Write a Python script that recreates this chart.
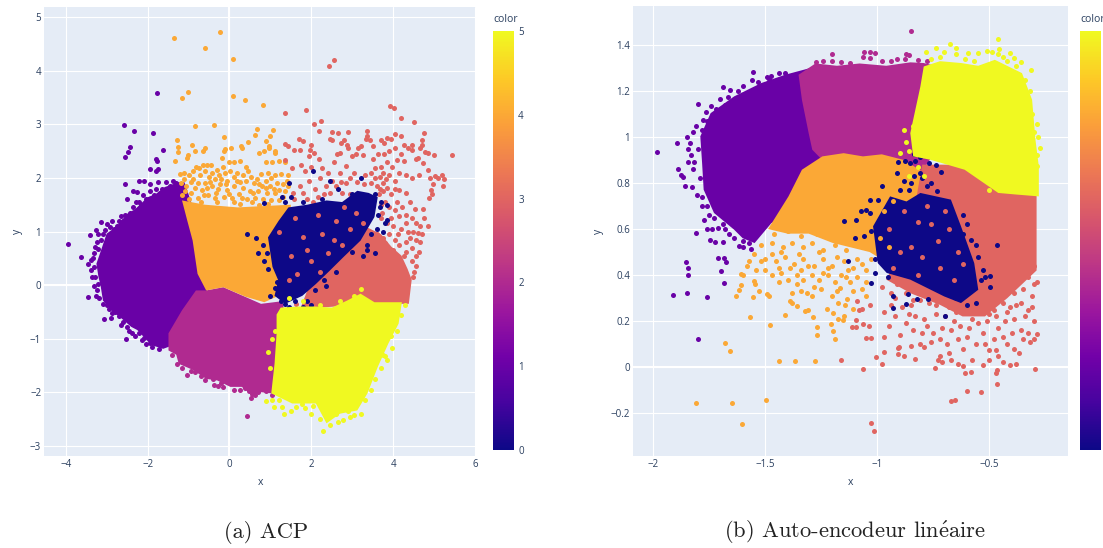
import numpy as np, pandas as pd, seaborn as sns
import matplotlib
matplotlib.use("Agg")
import matplotlib.pyplot as plt
from matplotlib.colors import LinearSegmentedColormap, Normalize
from matplotlib.cm import ScalarMappable

# ---------- left chart (ACP): dense cores as outlines, sparse points read one by one ----------
acp_core_1 = [(-1.1,1.92),(-.95,1.58),(-.8,1.2),(-.7,.83),(-.6,.34),(-.5,.09),(-.6,-.3),(-1.0,-.7),(-1.3,-1.1),(-1.62,-1.19),(-1.91,-1.12),(-2.25,-.84),(-2.4,-.78),(-2.67,-.6),(-2.85,-.5),(-3.09,-.29),(-3.15,.0),(-3.2,.15),(-3.25,.4),(-3.15,.62),(-3.0,.96),(-2.75,1.1),(-2.5,1.33),(-2.3,1.42),(-2.0,1.64),(-1.8,1.7),(-1.58,1.83),(-1.24,1.92)]
acp_core_2 = [(-.82,-.1),(-.57,-.1),(-.15,-.04),(.77,-.35),(1.3,-.3),(1.4,-.9),(1.3,-1.5),(1.25,-2.0),(1.02,-2.02),(.78,-2.0),(.56,-2.06),(.3,-1.9),(.02,-1.9),(-.3,-1.78),(-.57,-1.75),(-.9,-1.58),(-1.24,-1.47),(-1.3,-1.3),(-1.49,-1.22),(-1.49,-.9),(-1.16,-.47)]
acp_core_4 = [(-1.16,1.58),(-.6,1.5),(.2,1.45),(1.5,1.5),(1.45,.9),(1.4,.1),(1.2,-.2),(.85,-.32),(.4,-.22),(-.15,-.04),(-.57,-.1),(-.78,.21),(-.9,.83),(-1.03,1.2)]
acp_core_3 = [(1.7,-.5),(2.2,-.42),(2.6,-.4),(3.2,-.2),(3.55,-.35),(4.38,-.35),(4.45,.1),(4.35,.3),(4.2,.55),(3.95,.72),(3.7,.95),(3.3,1.1),(3,1),(2.2,.5),(1.9,-.1)]
acp_core_0 = [(.94,.89),(1.2,1.2),(1.44,1.45),(1.9,1.5),(2.37,1.58),(2.75,1.55),(3.12,1.76),(3.4,1.72),(3.62,1.64),(3.54,1.27),(3.2,.83),(2.78,.52),(2.45,.27),(2.11,.02),(1.78,-.2),(1.36,-.35),(1.1,-.2),(1.19,.09),(1.05,.34)]
acp_core_5 = [(1.25,-.42),(1.7,-.4),(2.1,-.4),(2.5,-.42),(2.87,-.29),(3.2,-.16),(3.54,-.32),(4.21,-.32),(4.13,-.72),(3.88,-1.09),(3.62,-1.53),(3.37,-2.02),(3.12,-2.34),(2.7,-2.4),(2.37,-2.58),(2.11,-2.21),(1.53,-2.21),(1.02,-2.02),(1.1,-1.47),(1.15,-.91),(1.15,-.55)]

acp_pts_1 = [(-3.95,.76),(-3.62,.52),(-1.76,3.58),(-2.58,2.98),(-2.32,2.88),(-1.87,2.84),(-2.43,2.58),(-2.47,2.49),(-2.55,2.39),(-1.62,2.53),(-1.79,2.35),(-1.76,2.31),(-1.93,2.16),(-1.8,2.12),(-1.74,2.17),(-2.54,1.88),(-2.21,1.94),(-2.1,1.94),(-1.93,1.89),(-1.74,1.92),(-1.55,1.92),(-1.3,1.9),(-2.36,1.76),(-2.25,1.73),(-2.12,1.69),(-2.5,1.61),(-2.65,1.28),(-3.13,1.17),(-2.98,1.14),(-2.86,1.19),(-3.27,1.02),(-3.41,.93),(-3.23,.8),(-3.22,.68),(-3.38,.46),(-3.46,.39),(-3.3,.34),(-3.46,-.23),(-3.23,-.1),(-3.22,.02),(-3.07,-.63),(-2.9,-.61),(-2.71,-.58),(-2.65,-.74),(-2.53,-1.01),(-2.14,-1.03),(-1.89,-1.16),(-1.72,-1.2),(-3.1,-.35),(-2.95,-.45),(-1.8,1.8),(-1.65,1.8),(-1.95,1.75),(-2.2,1.55),(-2.35,1.45),(-2.6,1.2),(-2.75,1.1),(-3.05,1.02),(-3.15,.85),(-3.3,.6),(-3.35,.15),(-3.3,-.02),(-2.8,-.5),(-2.45,-.85),(-2.3,-.95),(-2.05,-1.1),
 (-1.45,1.85),(-1.38,1.95),(-1.5,1.75),(-1.7,1.72),(-1.85,1.68),(-2.05,1.6),(-2.15,1.5),(-2.28,1.55),(-2.42,1.35),(-2.55,1.3),(-2.7,1.2),(-2.82,1.05),(-2.92,1.08),(-3.1,.95),(-3.2,.95),(-3.28,.72),(-3.33,.5),(-3.38,.28),(-3.28,.15),(-3.25,-.2),(-3.18,-.25),(-3.0,-.38),(-2.88,-.52),(-2.6,-.68),(-2.5,-.78),(-2.38,-.9),(-2.2,-.9),(-2.1,-.98),(-1.95,-1.08)]
acp_pts_2 = [(.42,-2.44),(-1.03,-1.68),(-.39,-1.86),(-.28,-1.89),(-.15,-1.9),(-.4,-1.76),(.56,-2.04),(.52,-2.1),(.37,-1.92),(-1.28,-1.47),(-.85,-1.62),(-.7,-1.7),(.12,-1.95),(.7,-2.0),(1.05,-2.05),(-1.4,-1.3),(-1.15,-1.55),(-.95,-1.6),(-.6,-1.78),(-.2,-1.83),(.25,-1.95),(.48,-1.98),(.62,-2.05),(.88,-1.98)]
acp_pts_4 = [(-1.35,4.62),(-.6,4.43),(-.23,4.73),(.08,4.22),(-1.17,3.5),(-1.01,3.6),(.08,3.53),(.39,3.45),(.82,3.36),(-.85,2.96),(-.38,2.99),(-.13,2.77),(.67,2.91),(1.07,2.89),(.63,2.8),(.98,2.78),(.9,2.69),(-1.29,2.7),(-1.26,2.57),(-1.26,2.49),(-.92,2.62),(-1.01,2.42),(-1.03,2.37),(-.84,2.5),(-.64,2.51),(-.6,2.55),(-.11,2.54),(-.13,2.5),(.04,2.56),(.27,2.6),(.31,2.56),(.46,2.67),(.97,2.6),(.97,2.56),(1.11,2.51),(1.11,2.47),(.71,2.46),(.84,2.5),(-.18,2.37),(-1.34,2.32),(0,2.29),(.11,2.29),(.25,2.31),(.88,2.3),(1.05,2.3),(1.22,2.32),(1.36,2.3),
 (-1.2,2.08),(-1.1,2.1),(-1.12,1.98),(-1.0,2.05),(-.95,1.92),(-1.05,1.85),(-.88,2.12),(-.82,2.2),(-.75,2.18),(-.72,2.05),(-.65,2.25),(-.6,2.12),(-.55,2.25),(-.5,2.02),(-.46,2.24),(-.42,2.1),(-.36,1.98),(-.3,2.15),(-.25,2.05),(-.17,2.2),(-.1,2.1),(-.05,1.95),(.02,2.12),(.1,2.02),(.18,2.1),(.25,1.92),(.33,2.05),(.4,2.2),(.45,2.12),(.52,2.02),(.6,1.9),(.68,1.98),(.78,2.08),(.8,1.85),(.88,1.95),(.95,2.1),(1.02,2.0),(1.1,2.06),(1.16,1.9),(1.25,2.08),(1.3,1.88),(1.43,2.05),(1.42,1.85),
 (-1.08,1.75),(-.95,1.72),(-.85,1.82),(-.78,1.62),(-.68,1.78),(-.6,1.9),(-.52,1.68),(-.43,1.85),(-.34,1.72),(-.24,1.88),(-.14,1.65),(-.05,1.78),(.05,1.62),(.12,1.85),(.22,1.7),(.32,1.82),(.42,1.6),(.5,1.75),(.62,1.62),(.7,1.75),(.82,1.6),(.92,1.72),(1.02,1.58),(1.12,1.72),(1.2,1.58),(1.3,1.65),(-1.0,1.6),(-.7,1.55),(-.3,1.55),(.25,1.52),(.72,1.5),
 (-1.15,1.68),(-1.18,1.9),(-.9,1.98),(-.78,1.9),(-.62,1.68),(-.55,1.82),(-.48,1.92),(-.28,1.8),(-.2,1.98),(-.08,1.88),(.0,1.7),(.18,1.95),(.3,1.62),(.4,1.95),(.58,1.72),(.72,1.88),(.88,1.82),(1.0,1.85),(1.08,1.8),(1.2,1.78),(1.35,1.75),(1.4,1.95),(-.35,1.62),(.1,1.55),(.55,1.55),(.95,1.52)]
acp_pts_3 = [(2.43,4.09),(2.55,4.2),(1.36,3.21),(1.87,3.26),(2.23,3.07),(2.06,3.0),(2.18,2.88),(2.5,2.85),(2.64,2.84),(2.89,2.85),(3.36,2.88),(3.93,3.34),(4.01,3.31),(4.18,3.11),(4.5,3.04),(4.75,2.84),(5.44,2.42),
 (1.35,2.63),(1.43,2.6),(1.58,2.52),(1.72,2.52),(1.7,2.72),(1.8,2.68),(2.0,2.62),(1.97,2.53),(2.06,2.46),(1.95,2.4),(2.45,2.73),(2.5,2.7),(2.62,2.45),(2.7,2.46),(2.72,2.65),(2.79,2.7),(2.87,2.62),(2.9,2.55),(3.0,2.4),(3.08,2.45),(3.15,2.55),(3.2,2.6),(3.25,2.42),(3.33,2.73),(3.35,2.78),(3.5,2.35),(3.7,2.7),(3.78,2.65),(3.85,2.75),(3.95,2.72),(4.05,2.82),(4.18,2.78),(4.25,2.62),(4.37,2.55),(4.45,2.62),(4.45,2.52),(4.65,2.55),(4.7,2.7),(4.7,2.62),(4.78,2.48),(4.85,2.46),(5.0,2.42),(4.55,2.35),(4.6,2.37),(4.25,2.32),(4.1,2.33),(3.7,2.2),(3.85,2.3),(3.98,2.2),(4.15,2.1),(4.3,2.05),(4.45,2.0),(4.62,2.05),(4.72,2.28),(4.85,2.15),(4.9,2.0),(5.02,2.03),(5.1,2.0),(5.2,2.05),(5.25,1.98),(5.22,1.85),(4.98,1.88),(4.92,1.78),(4.88,1.62),(4.95,1.7),(1.35,2.33),(1.52,2.18),(1.75,2.25),(1.85,2.12),(2.0,2.2),(2.18,2.35),(2.25,2.18),(2.4,2.1),(2.55,2.3),(2.7,2.1),(2.85,2.22),(3.05,2.1),(3.3,2.05),(3.55,2.18),(3.68,2.02),(3.82,1.98),(3.9,2.05),(4.05,1.95),(3.45,1.9),(3.6,1.85),(3.75,1.9),(2.6,1.85),(2.85,1.9),(2.95,1.7),(1.8,1.72),(2.1,1.8),(2.3,1.7),(1.58,1.6),(1.9,1.6),
 (3.75,1.75),(3.8,1.55),(3.95,1.7),(4.05,1.8),(4.15,1.78),(4.3,1.72),(4.4,1.55),(4.52,1.42),(4.72,1.42),(4.75,1.25),(4.55,1.15),(4.65,1.1),(4.85,1.1),(4.6,.98),(4.7,.95),(4.65,.8),(3.7,1.5),(3.9,1.45),(4.05,1.4),(4.15,1.28),(4.3,1.3),(4.45,1.25),(3.7,1.25),(3.85,1.15),(4.0,1.1),(4.2,1.05),(4.35,1.0),(4.48,1.0),(3.6,.95),(3.75,.88),(3.9,.95),(4.05,.85),(4.15,.75),(4.3,.8),(4.45,.7),(3.45,.75),(3.6,.65),(3.85,.6),(4.0,.65),(4.25,.55),(4.45,.45),(4.62,.62),(4.55,.35),(4.48,.15),(3.1,.6),(3.3,.4),(2.9,.5),(2.7,.2),
 (1.62,-.35),(2.0,-.2),(2.85,-.45),(3.0,-.5),(2.4,-.5),(2.55,-.6),(2.1,-.65),(2.3,-.8),(3.0,-.75),(1.95,-.6),
 (1.55,1.72),(1.72,1.85),(1.95,1.95),(2.2,2.0),(2.35,1.85),(2.5,1.95),(2.72,1.92),(2.95,2.0),(3.12,1.92),(3.28,1.88),(3.55,2.0),(3.68,1.8),(3.45,2.1),(3.75,2.1),(2.15,1.65),(2.45,1.72),(2.05,1.55),(2.75,1.72),(3.62,2.45),(3.5,2.6),(3.78,2.45),(3.42,2.7),(3.9,2.5),(4.05,2.55),(4.18,2.45),(3.65,1.7),(3.85,1.82),(3.72,1.35),(3.95,1.25),(4.1,1.55),(4.22,1.45),(4.32,1.15),(4.42,.88),(4.55,.85),(4.12,.95),(3.8,.78),(4.32,.62),(4.55,.55),(3.95,.5),(3.7,.75),(4.5,.25),(2.75,-.4),(2.25,-.5)]
acp_pts_0 = [(2.05,2.12),(2.45,1.95),(2.25,1.6),(3.2,2.0),(2.65,1.8),(1.45,1.9),(1.35,1.55),(1.8,1.55),(.84,1.53),(1.28,1.65),(1.5,1.65),(3.0,1.7),(3.55,1.7),(3.7,1.55),(3.62,1.3),(3.85,1.5),(3.8,1.15),(3.85,1.22),(3.6,1.05),(3.75,1.0),(3.35,.75),(3.35,.65),(3.55,.6),(.43,.95),(.65,.87),(.7,.6),(.82,.75),(.92,.6),(.85,.45),(.95,.3),(1.15,.05),(1.0,-.2),(1.35,-.35),(1.55,-.6),(1.6,-.3),(1.8,-.4),(2.0,-.38),(1.75,-.85),(1.5,-.9),(2.3,.1),(2.6,.25),
 (1.1,-.05),(1.25,-.3),(1.45,-.4),(1.62,-.48),(1.9,-.3),(1.52,-.18),(2.1,-.1),(2.35,-.02),(3.0,.62),(3.25,.55),(3.45,.95),(3.68,1.45)]
acp_pts_5 = [(2.28,-2.73),(3.22,-2.4),(2.94,-2.47),(2.66,-2.55),(2.77,-2.51),(1.99,-2.4),(1.33,-2.41),(1.08,-2.28),(.88,-2.17),(1.28,-2.27),(1.5,-2.35),(1.78,-2.22),(3.96,-1.17),(3.79,-1.33),(3.71,-1.55),(1.0,-1.55),(.95,-1.25),(1.05,-1.0),(1.1,-.85),(1.3,-.6),(1.45,-.55),(2.6,-2.4),(2.45,-2.62),(2.2,-2.5),(3.05,-2.42),(3.3,-2.15),(3.85,-1.4),
 (1.2,-2.15),(1.05,-2.15),(1.62,-2.28),(1.85,-2.3),(2.05,-2.25),(2.35,-2.4),(2.9,-2.35),(3.45,-1.95),(3.55,-1.75),(3.75,-1.3),(3.95,-.95),(4.1,-.85),(4.2,-.55),(4.28,-.38),(3.2,-.08),(3.05,-.2),(2.7,-.3),(2.2,-.38),(1.8,-.3),(1.45,-.25)]
acp_spk_3 = [(1.2,1.0),(1.5,.55),(1.8,.9),(2.0,.45),(2.25,.95),(2.4,.6),(2.6,1.2),(2.75,.75),(2.95,1.05),(3.1,1.35),(1.6,1.25),(2.15,1.3),(2.8,1.45),(1.65,.2),(2.2,.25),(1.45,.1),(3.25,1.15),(2.55,.85),(1.9,.65)]

# ---------- right chart (auto-encodeur) ----------
ae_core_1 = [(-1.3,1.3),(-1.2,1.1),(-1.15,.9),(-1.3,.7),(-1.472,.626),(-1.547,.539),(-1.6,.56),(-1.638,.597),(-1.728,.67),(-1.774,.771),(-1.781,.887),(-1.789,1.003),(-1.743,1.104),(-1.638,1.177),(-1.517,1.235),(-1.411,1.271)]
ae_core_2 = [(-1.351,1.271),(-1.276,1.32),(-1.18,1.31),(-1.079,1.32),(-.96,1.31),(-.853,1.325),(-.793,1.322),(-.7,1.3),(-.7,1.0),(-.8,.85),(-1.064,.88),(-1.245,.9),(-1.29,.945),(-1.306,1.017),(-1.336,1.162)]
ae_core_4 = [(-1.245,.916),(-1.15,.93),(-1.064,.916),(-.98,.925),(-.88,.9),(-.8,.85),(-.85,.6),(-.95,.45),(-1.034,.5),(-1.2,.54),(-1.306,.58),(-1.4,.58),(-1.487,.6),(-1.396,.742),(-1.336,.858)]
ae_core_3 = [(-.8,.88),(-.62,.88),(-.46,.77),(-.29,.75),(-.29,.42),(-.42,.3),(-.52,.22),(-.62,.22),(-.72,.27),(-.85,.32),(-.96,.38),(-.85,.6)]
ae_core_0 = [(-1.019,.612),(-.943,.742),(-.87,.72),(-.808,.757),(-.672,.728),(-.627,.612),(-.568,.452),(-.55,.336),(-.627,.278),(-.702,.307),(-.853,.38),(-.958,.409),(-.998,.452)]
ae_core_5 = [(-.793,1.307),(-.72,1.33),(-.627,1.322),(-.55,1.31),(-.476,1.336),(-.355,1.278),(-.31,1.162),(-.295,.988),(-.28,.872),(-.28,.742),(-.38,.75),(-.461,.757),(-.611,.858),(-.762,.901),(-.84,.916),(-.853,1.017),(-.808,1.22)]

ae_pts_1 = [(-1.909,.313),(-1.848,.322),(-1.845,.401),(-1.759,.306),(-1.801,.12),(-1.682,.367),(-1.698,.419),(-1.982,.936),(-1.894,.974),(-1.89,.862),(-1.876,.833),(-1.864,.826),(-1.857,.788),(-1.826,.785),(-1.799,1.145),(-1.688,1.219),(-1.657,1.206),(-1.553,1.283),(-1.472,1.265),(-1.41,1.278),(-1.847,1.0),(-1.836,.975),(-1.844,.946),(-1.829,.92),(-1.844,.891),(-1.815,.891),(-1.807,1.05),(-1.778,1.076),(-1.763,1.108),(-1.74,1.137),(-1.702,1.166),(-1.664,1.173),(-1.597,1.223),(-1.53,1.238),(-1.485,1.252),(-1.807,.581),(-1.774,.64),(-1.758,.6),(-1.735,.601),(-1.71,.606),(-1.746,.552),(-1.722,.545),(-1.69,.545),(-1.615,.526),(-1.562,.515),(-1.852,.455),(-1.843,.43),(-1.709,.475),(-1.684,.473),(-1.674,.457),(-1.805,.75),(-1.78,.7),(-1.75,.66),(-1.68,.6),(-1.64,.56),(-1.6,.55),
 (-1.82,.86),(-1.8,.95),(-1.82,1.02),(-1.79,.82),(-1.78,1.03),(-1.76,1.07),(-1.72,1.12),(-1.68,1.14),(-1.62,1.2),(-1.56,1.25),(-1.49,1.26),(-1.44,1.28),(-1.78,.74),(-1.76,.7),(-1.73,.65),(-1.69,.62),(-1.66,.58),(-1.6,.52),(-1.57,.54)]
ae_pts_2 = [(-.85,1.462),(-1.2,1.362),(-1.061,1.368),(-1.034,1.371),(-1.01,1.365),(-1.064,1.347),(-1.034,1.343),(-1.275,1.325),(-1.2,1.332),(-1.162,1.325),(-.91,1.34),(-.872,1.362),(-.857,1.355),(-.878,1.34),(-.78,1.33),(-1.3,1.29),(-1.24,1.33),(-1.12,1.32),(-.98,1.33),(-.94,1.33),(-.82,1.335)]
ae_pts_4 = [(-1.81,-.158),(-1.647,-.158),(-1.496,-.142),(-1.603,-.246),(-1.679,.106),(-1.656,.071),(-1.437,.026),(-1.369,.028),(-1.279,.026),(-1.568,.217),(-1.479,.184),(-1.411,.225),(-1.267,.141),(-1.267,.174),(-1.288,.216),(-1.188,.123),(-1.196,.158),(-1.205,.187),(-1.223,.251),(-1.199,.235),(-1.321,.242),(-1.309,.246),(-1.389,.286),(-1.381,.278),(-1.359,.265),(-1.147,.22),(-1.155,.206),(-1.177,.209),(-1.11,.254),(-1.173,.278),(-1.143,.271),(-1.135,.296),(-1.632,.307),(-1.553,.306),(-1.615,.336),(-1.608,.358),(-1.608,.404),(-1.55,.372),(-1.546,.362),(-1.528,.33),(-1.49,.319),(-1.484,.31),(-1.38,.32),(-1.34,.33),(-1.315,.32),(-1.29,.307),(-1.25,.34),(-1.2,.31),(-1.165,.345),(-1.11,.33),(-1.05,.31),
 (-1.58,.44),(-1.54,.42),(-1.5,.42),(-1.47,.4),(-1.43,.41),(-1.4,.38),(-1.36,.4),(-1.33,.38),(-1.29,.4),(-1.26,.38),(-1.22,.4),(-1.19,.37),(-1.16,.4),(-1.12,.37),(-1.09,.39),(-1.05,.37),(-1.55,.49),(-1.5,.47),(-1.45,.46),(-1.41,.48),(-1.37,.45),(-1.33,.47),(-1.28,.44),(-1.24,.47),(-1.2,.44),(-1.15,.46),(-1.11,.43),(-1.07,.45),(-1.52,.53),(-1.47,.54),(-1.42,.52),(-1.38,.54),(-1.33,.52),(-1.29,.54),(-1.24,.51),(-1.19,.53),(-1.14,.51),(-1.09,.53),(-1.46,.58),(-1.4,.59),(-1.34,.57),(-1.27,.58),(-1.2,.57),(-1.13,.56),(-1.6,.4),(-1.57,.46),
 (-1.52,.46),(-1.47,.49),(-1.43,.5),(-1.39,.43),(-1.35,.49),(-1.31,.44),(-1.26,.5),(-1.22,.43),(-1.18,.48),(-1.13,.42),(-1.09,.47),(-1.05,.42),(-1.03,.47),(-1.44,.43),(-1.34,.42),(-1.24,.41),(-1.14,.39),(-1.07,.34),(-1.18,.33),(-1.28,.35),(-1.36,.36),(-1.44,.37)]
ae_pts_3 = [(-1.162,.032),(-1.066,-.01),(-1.027,-.245),(-1.016,-.278),(-.672,-.146),(-.654,-.145),(-.602,-.106),(-.536,-.109),(-.468,-.072),(-.298,-.007),(-.607,-.028),(-.584,-.023),(-.743,-.003),(-.473,-.028),(-.468,-.012),(-.83,.033),(-.879,.046),(-.907,.055),(-.98,.014),(-1.007,.042),(-.971,.064),(-.907,.083),(-.903,.088),(-.971,.13),(-1.028,.126),(-1.052,.126),(-1.114,.172),(-1.093,.174),(-1.066,.187),(-1.039,.18),(-1.097,.206),(-1.082,.249),(-1.069,.252),(-1.09,.286),(-1.034,.268),
 (-.85,.09),(-.81,.1),(-.79,.085),(-.73,.03),(-.72,.05),(-.71,.02),(-.67,.03),(-.64,.015),(-.62,.005),(-.58,.03),(-.53,.01),(-.5,.03),(-.46,.05),(-.44,.02),(-.41,.01),(-.38,.012),(-.47,.075),(-.5,.075),(-.39,.08),(-.35,.12),(-.32,.11),(-.3,.12),(-.29,.145),(-.33,.15),(-.36,.16),(-.4,.15),(-.44,.13),(-.48,.12),(-.52,.1),(-.56,.1),(-.6,.13),(-.64,.12),(-.69,.1),(-.72,.12),(-.76,.11),(-.75,.15),(-.71,.17),(-.67,.16),(-.63,.18),(-.59,.17),(-.55,.19),(-.51,.2),(-.47,.22),(-.43,.2),(-.39,.21),(-.34,.22),(-.3,.2),(-.8,.15),(-.84,.16),(-.87,.19),(-.83,.22),(-.79,.21),(-.74,.23),(-.7,.22),(-.65,.24),(-.6,.24),(-.56,.25),(-.52,.26),(-.48,.25),(-.44,.28),(-.41,.26),(-.36,.28),(-.31,.26),(-.95,.18),(-.92,.22),(-.97,.24),(-.94,.27),(-.89,.26),(-.85,.27),(-.81,.29),(-.77,.28),(-.94,.32),(-.98,.35),(-.91,.36),(-.87,.32),(-.83,.34),(-.78,.33),(-.72,.3),(-.52,.32),(-.48,.3),(-.43,.33),(-.39,.32),(-.35,.34),(-.31,.31),(-.3,.36),(-.33,.39),(-.4,.38),(-.45,.37),(-.5,.38),(-.53,.42),(-.57,.36),(-.57,.42),
 (-.6,.7),(-.62,.62),(-.58,.55),(-.55,.6),(-.54,.52),(-.66,.68),(-.7,.72),(-.74,.74),(-.78,.77),(-.75,.84),(-.72,.86),(-.69,.83),(-.65,.81),(-.62,.79),(-.58,.79),(-.55,.78),(-.52,.76),(-.6,.85),(-.65,.76),(-.29,.37),(-.3,.44),(-.59,.95),(-.5,.9),(-.55,.94),(-.66,.9),
 (-.66,.2),(-.58,.21),(-.5,.23),(-.62,.27),(-.68,.26),(-.74,.27),(-.42,.24),(-.38,.27),(-.33,.25),(-.46,.17),(-.53,.15),(-.42,.1),(-.37,.06),(-.62,.08),(-.68,.06),(-.78,.18),(-.9,.14),(-.86,.23),(-.92,.3),(-.84,.29)]
ae_pts_0 = [(-.775,1.012),(-.796,.949),(-.838,.926),(-.808,.913),(-.83,.894),(-.853,.887),(-.876,.894),(-.906,.89),(-.77,.887),(-.74,.877),(-.717,.848),(-.808,.843),(-.838,.829),(-.913,.843),(-.883,.807),(-.778,.786),(-.732,.764),(-.981,.788),(-1.034,.728),(-.996,.728),(-1.072,.677),(-1.049,.684),(-1.034,.67),(-1.094,.64),(-1.147,.633),(-.619,.662),(-.581,.554),(-.559,.532),(-.468,.532),(-.931,.257),(-.873,.275),(-.823,.296),(-.861,.317),(-.699,.223),(-.928,.307),(-.775,.296),(-.498,.348),(-.498,.394),(-.521,.391),(-1.027,.365),(-.951,.391),(-.85,.8),(-.8,.82),(-.76,.8),(-.9,.77),(-.86,.77),(-1.03,.59),(-1.06,.57),(-1.1,.56),(-.6,.62),(-.62,.58),(-.55,.48),(-.53,.42),(-.54,.38),(-.65,.3),(-.6,.27),(-.56,.28),(-1.01,.47),(-1.01,.41),(-1.13,.46)]
ae_pts_5 = [(-.678,1.404),(-.464,1.428),(-.458,1.384),(-.513,1.375),(-.49,1.372),(-.408,1.365),(-.389,1.343),(-.361,1.328),(-.313,1.29),(-.737,1.386),(-.785,1.37),(-.702,1.372),(-.649,1.387),(-.596,1.365),(-.551,1.365),(-.287,1.058),(-.284,.999),(-.275,.952),(-.287,.875),(-.76,1.34),(-.72,1.35),(-.65,1.36),(-.46,1.36),(-.44,1.35),(-.38,1.31),(-.31,1.1),(-.84,1.05),(-.87,.98),(-.88,1.03),(-.9,.93),(-.86,.94),(-.82,.87),(-.79,.83),(-.86,.83),(-.61,1.34),(-.57,1.33),(-.42,1.33),(-.34,1.25),(-.32,1.2),(-.3,1.02),(-.29,.92),(-.5,.77),(-.42,.77)]
ae_spk_3 = [(-.95,.6),(-.88,.68),(-.82,.63),(-.78,.7),(-.73,.55),(-.68,.6),(-.85,.52),(-.8,.48),(-.72,.43),(-.64,.5),(-.9,.5),(-.93,.43),(-.76,.62),(-.62,.45),(-.66,.38),(-.82,.4),(-.7,.68)]
ae_spk_4 = [(-.97,.68),(-.93,.72),(-.99,.56),(-.95,.52)]

tick_values = [0, 1, 2, 3, 4, 5]
plasma_stops = ["#0d0887","#46039f","#7201a8","#9c179e","#bd3786","#d8576b","#ed7953","#fb9f3a","#fdca26","#f0f921"]

# ---------- drawing ----------
FW, FH = 1103, 548
sns.set_theme(style="white")
plt.rcParams["font.family"] = ["Open Sans", "DejaVu Sans"]
INK = "#2a3f5f"
cmap = LinearSegmentedColormap.from_list("plotly_plasma", plasma_stops)
norm = Normalize(0, 5)
fig = plt.figure(figsize=(FW / 100, FH / 100), dpi=100)

def box(l, t, r, b):
    return [l / FW, 1 - b / FH, (r - l) / FW, (b - t) / FH]

def layer(ax, cls, core, pts, z):
    c = cmap(norm(cls))
    if core:
        xs, ys = zip(*core)
        ax.fill(xs, ys, color=c, lw=0, zorder=z)
    df = pd.DataFrame(pts, columns=["x", "y"])
    sns.scatterplot(data=df, x="x", y="y", color=c, s=13, linewidth=0, ax=ax, zorder=z + .5, legend=False)

def panel(rect, xlim, ylim, xt, yt, xl, yl, layers):
    ax = fig.add_axes(box(*rect))
    ax.set_facecolor("#e5ecf6")
    for cls, core, pts, z in layers:
        layer(ax, cls, core, pts, z)
    ax.set_xlim(*xlim); ax.set_ylim(*ylim)
    ax.set_xticks(xt, xl); ax.set_yticks(yt, yl)
    ax.grid(True, color="white", lw=.8, zorder=1)
    ax.set_axisbelow(True)
    ax.axhline(0, color="white", lw=1.5, zorder=1)
    if xlim[0] < 0 < xlim[1]:
        ax.axvline(0, color="white", lw=1.5, zorder=1)
    for s in ax.spines.values():
        s.set_visible(False)
    ax.tick_params(length=0, labelsize=7, labelcolor=INK, pad=2)
    ax.set_xlabel("x", fontsize=7.5, color=INK, labelpad=5)
    ax.set_ylabel("y", fontsize=7.5, color=INK, labelpad=5)
    return ax

def cbar(l, t, r, b, title_x, labels):
    cax = fig.add_axes(box(l, t, r, b))
    cb = fig.colorbar(ScalarMappable(norm=norm, cmap=cmap), cax=cax, ticks=tick_values)
    cb.outline.set_visible(False)
    cax.tick_params(length=0, labelsize=7, labelcolor=INK, pad=3)
    if not labels:
        cax.set_yticklabels([])
    fig.text(title_x / FW, 1 - 19 / FH, "color", fontsize=7.5, color=INK, va="center")

panel((44, 7, 476, 456), (-4.53, 6.02), (-3.19, 5.19), [-4,-2,0,2,4,6], [-3,-2,-1,0,1,2,3,4,5],
      ["\u22124","\u22122","0","2","4","6"], ["\u22123","\u22122","\u22121","0","1","2","3","4","5"],
      [(1, acp_core_1, acp_pts_1, 2), (2, acp_core_2, acp_pts_2, 3), (4, acp_core_4, acp_pts_4, 4),
       (3, acp_core_3, acp_pts_3, 5), (0, acp_core_0, acp_pts_0, 6), (5, acp_core_5, acp_pts_5, 7),
       (3, None, acp_spk_3, 8)])
cbar(493, 31, 514, 450, 493, True)

panel((633, 6, 1068, 456), (-2.089, -.15), (-.387, 1.57), [-2,-1.5,-1,-.5], [-.2,0,.2,.4,.6,.8,1,1.2,1.4],
      ["\u22122","\u22121.5","\u22121","\u22120.5"], ["\u22120.2","0","0.2","0.4","0.6","0.8","1","1.2","1.4"],
      [(1, ae_core_1, ae_pts_1, 2), (2, ae_core_2, ae_pts_2, 3), (4, ae_core_4, ae_pts_4, 4),
       (3, ae_core_3, ae_pts_3, 5), (0, ae_core_0, ae_pts_0, 6), (5, ae_core_5, ae_pts_5, 7),
       (3, None, ae_spk_3, 8), (4, None, ae_spk_4, 8)])
cbar(1080, 31, 1101, 450, 1080, False)

plt.rcParams["mathtext.fontset"] = "cm"
fig.text(266 / FW, 1 - 532 / FH, r"(a) ACP", family="cmr10", fontsize=16.2, ha="center", va="center", color="#222222")
fig.text(855 / FW, 1 - 532 / FH, "(b) Auto-encodeur lin$\\mathrm{\\acute{e}}$aire", family="cmr10", fontsize=16.2, ha="center", va="center", color="#222222")
fig.savefig("out.png", dpi=100)
